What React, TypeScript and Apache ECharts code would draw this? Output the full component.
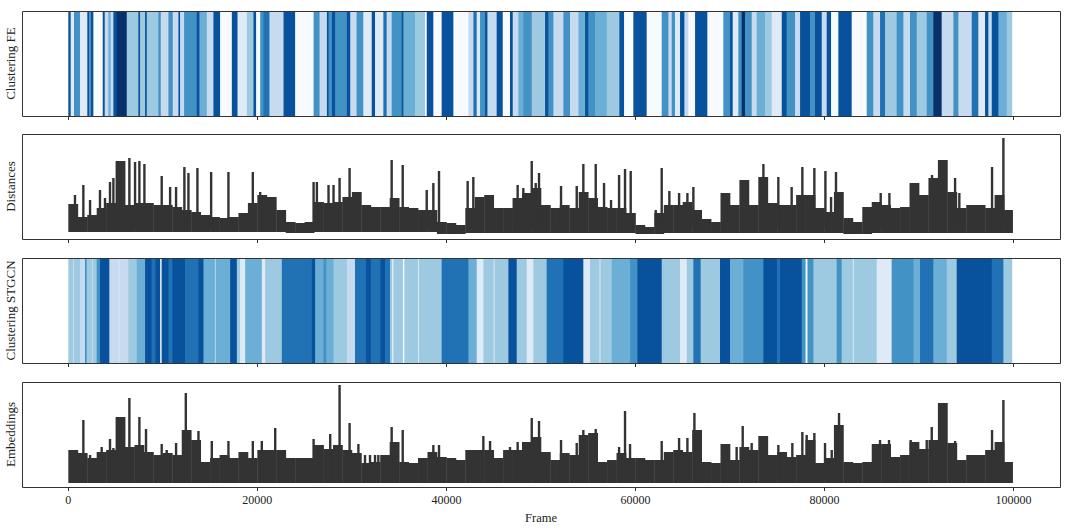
import React, { useEffect, useRef } from 'react';
import * as echarts from 'echarts';

// frames
const FRAME_END = 99800;
const LINE_END = 99900;
const BIN = 1000;
const X_TICKS = [0, 20000, 40000, 60000, 80000, 100000];

const BLUES = ['#f7fbff', '#deebf7', '#c6dbef', '#9ecae1', '#6baed6', '#4292c6', '#2171b5', '#08519c', '#08306b'];
const LINE_COLOR = '#333333';

const PANEL_NAMES = ['Clustering FE', 'Distances', 'Clustering STGCN', 'Embeddings'];

// cluster runs: start frame + colour level
const FE_STARTS = [
  0, 250, 600, 1235, 2010, 2220, 2365, 2650, 3640, 3850, 4240, 4480, 4770, 5120, 6180, 7410, 7590, 8120, 8300, 9530,
  9780, 10590, 11050, 11650, 11825, 12250, 13590, 13870, 14650, 15355, 16060, 17300, 17900, 18890, 19590, 19870, 20300, 20650, 21280, 22770,
  24000, 25950, 26580, 27360, 27530, 27890, 28240, 29470, 29830, 30500, 31210, 32100, 32450, 33330, 33680, 34210, 35270, 35450, 36680, 37740,
  37920, 38620, 39500, 40740, 42330, 42860, 43210, 43560, 44090, 44340, 45320, 45960, 46730, 47020, 47610, 48140, 49030, 50440, 50790, 51320,
  52380, 53080, 53970, 54670, 55020, 55730, 56960, 58300, 58800, 59780, 61190, 62780, 63490, 63840, 64190, 64720, 65180, 65600, 66310, 67610,
  69300, 70010, 70290, 70890, 71240, 71600, 72300, 72830, 73710, 74420, 75480, 76000, 76890, 77420, 78470, 79000, 79710, 80240, 80700, 81470,
  82880, 84470, 85170, 85880, 86410, 87640, 88350, 89050, 89760, 90820, 91520, 92400, 93640, 94170, 95580, 96280, 96990, 97340, 97700, 98400,
  99280,
];
const FE_LEVELS = [
  7, 1, 5, 1, 7, 4, 7, 0, 7, 2, 4, 2, 7, 8, 3, 7, 3, 7, 3, 5,
  2, 5, 2, 7, 2, 5, 7, 4, 2, 7, 0, 7, 1, 3, 7, 0, 5, 6, 2, 7,
  0, 5, 2, 7, 5, 7, 5, 7, 2, 5, 1, 7, 1, 6, 2, 5, 7, 4, 3, 0,
  7, 0, 7, 0, 2, 6, 1, 5, 7, 2, 7, 0, 7, 2, 4, 5, 3, 7, 5, 2,
  5, 2, 4, 7, 5, 4, 3, 7, 0, 7, 0, 5, 2, 5, 1, 7, 2, 0, 7, 0,
  5, 7, 1, 5, 8, 5, 2, 4, 3, 1, 7, 5, 2, 7, 5, 7, 2, 7, 0, 7,
  0, 5, 2, 6, 3, 5, 2, 5, 3, 5, 8, 2, 5, 2, 6, 1, 7, 2, 7, 4,
  3,
];

// [start frame, colour level]
const STGCN_RUNS = [
  [0, 3], [500, 2], [600, 3], [1235, 2], [1765, 5], [1940, 3], [2500, 2], [2600, 3], [3000, 5], [3350, 7],
  [4340, 2], [5300, 1], [5400, 2], [6350, 3], [7240, 4], [8120, 7], [8800, 6], [9200, 7], [9710, 1], [9880, 7],
  [10600, 6], [11000, 7], [12350, 6], [13770, 7], [14300, 4], [15500, 2], [15600, 4], [17120, 7], [17830, 3], [18180, 1],
  [18710, 4], [20470, 1], [20830, 3], [22590, 6], [25770, 7], [26120, 4], [27000, 5], [27300, 4], [28060, 3], [29470, 2],
  [30330, 6], [31500, 7], [32000, 6], [33000, 7], [33500, 6], [34040, 3], [34250, 1], [34400, 3], [35400, 0], [35550, 3],
  [37000, 1], [37100, 3], [39500, 6], [42330, 4], [43210, 1], [43920, 3], [45000, 1], [45100, 3], [46560, 7], [47440, 3],
  [48500, 1], [49200, 3], [50610, 6], [52380, 7], [54490, 1], [55200, 3], [56200, 1], [56300, 3], [57490, 4], [59430, 5],
  [60210, 7], [62780, 3], [64720, 1], [65430, 3], [66130, 6], [66900, 3], [68950, 7], [70010, 4], [71420, 5], [73540, 7],
  [75000, 6], [75300, 7], [77590, 5], [78000, 0], [78200, 5], [78830, 3], [81290, 5], [81820, 3], [83000, 1], [83100, 3],
  [85530, 1], [87110, 5], [89410, 4], [90110, 6], [91520, 4], [92940, 3], [93990, 7], [97700, 6], [98930, 3],
];

// dense traces: per 1000-frame bin, lower and upper envelope (panel units 0..105)
const DIST_HIGH = [
  35, 22, 24, 31, 36, 78, 34, 36, 36, 34,
  34, 32, 29, 27, 24, 22, 21, 22, 26, 36,
  44, 42, 29, 17, 16, 17, 37, 36, 37, 42,
  47, 34, 32, 32, 41, 32, 31, 29, 29, 17,
  16, 14, 31, 42, 44, 31, 31, 41, 46, 51,
  34, 31, 34, 31, 47, 41, 32, 31, 31, 26,
  14, 12, 26, 34, 34, 37, 29, 20, 17, 46,
  34, 59, 34, 62, 36, 34, 34, 44, 44, 31,
  27, 47, 21, 17, 32, 37, 34, 31, 32, 56,
  44, 61, 79, 47, 31, 34, 34, 31, 44, 29,
];
const DIST_LOW = [
  7, 7, 7, 7, 7, 7, 7, 7, 7, 7,
  7, 7, 7, 7, 7, 7, 7, 7, 7, 7,
  7, 7, 7, 6, 6, 6, 7, 7, 7, 7,
  7, 7, 7, 7, 7, 7, 7, 7, 7, 5,
  5, 5, 6, 6, 6, 6, 6, 6, 6, 6,
  6, 6, 6, 6, 6, 6, 6, 6, 6, 6,
  5, 5, 5, 6, 6, 6, 6, 6, 6, 6,
  6, 6, 6, 6, 6, 6, 6, 6, 6, 6,
  6, 6, 5, 5, 5, 6, 6, 6, 6, 6,
  6, 6, 6, 6, 6, 6, 6, 6, 6, 6,
];
const DIST_SPIKES = [
  [706, 44], [1590, 54], [2300, 39], [3350, 49], [3880, 41], [4410, 57], [4770, 61], [6460, 81], [7060, 77], [7520, 78],
  [8050, 75], [9880, 63], [10770, 52], [11400, 52], [12280, 72], [12710, 66], [13660, 71], [15110, 67], [16940, 67], [19520, 67],
  [20300, 47], [25950, 57], [26300, 57], [27530, 54], [28060, 54], [28700, 61], [29760, 71], [34210, 79], [35380, 74], [37920, 49],
  [38620, 56], [39220, 68], [42250, 58], [42850, 62], [47540, 54], [48140, 51], [49030, 78], [49450, 56], [49800, 66], [52130, 53],
  [53790, 53], [54490, 75], [55800, 75], [56680, 56], [57420, 39], [58270, 64], [58900, 70], [59500, 68], [62150, 29], [62780, 71],
  [63590, 48], [64620, 46], [65500, 46], [66130, 52], [73540, 75], [75120, 62], [76530, 52], [77660, 72], [78930, 71], [80100, 68],
  [80700, 42], [81220, 67], [85950, 46], [86870, 46], [91380, 64], [93820, 61], [94270, 46], [97730, 72], [98930, 101],
];

const EMB_HIGH = [
  37, 34, 29, 35, 37, 70, 40, 42, 35, 32,
  34, 32, 57, 47, 25, 29, 32, 29, 35, 29,
  37, 37, 37, 29, 29, 29, 42, 38, 42, 37,
  34, 24, 25, 32, 45, 25, 24, 29, 35, 30,
  29, 27, 37, 37, 37, 29, 37, 37, 45, 50,
  35, 27, 34, 32, 52, 54, 25, 27, 34, 29,
  29, 27, 27, 35, 37, 35, 57, 25, 24, 43,
  27, 40, 37, 51, 32, 35, 30, 32, 47, 24,
  29, 62, 25, 24, 25, 43, 43, 30, 32, 45,
  38, 47, 84, 44, 27, 32, 32, 37, 45, 25,
];
const EMB_BASE = 4;
const EMB_SPIKES = [
  [1590, 67], [2300, 32], [3530, 40], [4410, 48], [4770, 39], [6460, 89], [7520, 70], [8220, 58], [9880, 43], [10410, 37],
  [11400, 44], [12430, 94], [13770, 56], [15180, 46], [16940, 46], [19520, 46], [20470, 46], [21890, 59], [25950, 48], [27710, 53],
  [28700, 102], [29760, 64], [30690, 43], [31390, 32], [31920, 32], [32450, 32], [32800, 32], [34210, 60], [35380, 57], [38620, 42],
  [39220, 42], [43910, 51], [44620, 46], [46730, 40], [47540, 45], [49030, 69], [49800, 66], [52130, 47], [53790, 44], [54490, 57],
  [55800, 58], [58270, 40], [58900, 76], [59430, 43], [62780, 46], [64620, 49], [65500, 49], [66240, 74], [70710, 40], [71350, 61],
  [72300, 44], [75120, 42], [76600, 44], [77660, 55], [78120, 52], [78930, 54], [80060, 44], [80770, 37], [81540, 74], [85880, 47],
  [86830, 47], [89120, 47], [90820, 47], [91350, 60], [93820, 46], [97730, 57], [98930, 87],
];

// layout
const GRID_TOPS = [11, 134, 258, 382];
const GRID_H = 105;
const GRID_LEFT = 22;
const GRID_W = 1038;
const FONT = "'Liberation Serif', 'DejaVu Serif', serif";

const runs = (starts: number[], levels: number[]) =>
  starts.map((s, i) => [s, i + 1 < starts.length ? starts[i + 1] : FRAME_END, levels[i]]);

const bins = (high: number[], low: number[] | number) =>
  high.map((h, i) => [i * BIN, Math.min((i + 1) * BIN, LINE_END), Array.isArray(low) ? low[i] : low, h]);

const stripeItem = (params: any, api: any) => {
  const a = api.coord([api.value(0), 1]);
  const b = api.coord([api.value(1), 0]);
  return {
    type: 'rect',
    shape: { x: a[0], y: a[1], width: b[0] - a[0] + 0.6, height: b[1] - a[1] },
    style: { fill: BLUES[api.value(2)] },
  };
};

const bandItem = (params: any, api: any) => {
  const a = api.coord([api.value(0), api.value(3)]);
  const b = api.coord([api.value(1), api.value(2)]);
  return {
    type: 'rect',
    shape: { x: a[0], y: a[1], width: b[0] - a[0] + 0.4, height: b[1] - a[1] },
    style: { fill: LINE_COLOR },
  };
};

const spikeItem = (base: number) => (params: any, api: any) => {
  const a = api.coord([api.value(0), api.value(1)]);
  const b = api.coord([api.value(0), base]);
  return {
    type: 'line',
    shape: { x1: a[0], y1: a[1], x2: b[0], y2: b[1] },
    style: { stroke: LINE_COLOR, lineWidth: 2.4 },
  };
};

const App: React.FC = () => {
  const chartRef = useRef<HTMLDivElement>(null);

  useEffect(() => {
    if (!chartRef.current) return;
    const chart = echarts.init(chartRef.current, null, { renderer: 'svg' });

    const grid = GRID_TOPS.map((top) => ({
      left: GRID_LEFT,
      top,
      width: GRID_W,
      height: GRID_H,
      show: false,
      containLabel: false,
      outerBoundsMode: 'none',
    }));

    const xAxis = GRID_TOPS.map((_, i) => ({
      type: 'value',
      gridIndex: i,
      min: -4900,
      max: 104920,
      axisLine: { show: false },
      splitLine: { show: false },
      axisTick: { show: true, length: 4, customValues: X_TICKS, lineStyle: { color: '#333' } },
      axisLabel: {
        show: i === 3,
        customValues: X_TICKS,
        formatter: (v: number) => String(v),
        margin: 7,
        fontFamily: FONT,
        fontSize: 12,
        color: '#222',
      },
      name: i === 3 ? 'Frame' : '',
      nameLocation: 'middle',
      nameGap: 24,
      nameTextStyle: { fontFamily: FONT, fontSize: 12.5, color: '#222' },
    }));

    const yAxis = GRID_TOPS.map((_, i) => ({
      type: 'value',
      gridIndex: i,
      min: 0,
      max: i % 2 === 0 ? 1 : GRID_H,
      axisLine: { show: false },
      axisTick: { show: false },
      axisLabel: { show: false },
      splitLine: { show: false },
      name: PANEL_NAMES[i],
      nameLocation: 'middle',
      nameRotate: 90,
      nameGap: 5,
      nameTextStyle: { fontFamily: FONT, fontSize: 13, color: '#222' },
    }));

    const stgcnStarts = STGCN_RUNS.map((r) => r[0]);
    const stgcnLevels = STGCN_RUNS.map((r) => r[1]);

    const series: any[] = [
      { type: 'custom', xAxisIndex: 0, yAxisIndex: 0, renderItem: stripeItem, data: runs(FE_STARTS, FE_LEVELS), encode: { x: [0, 1] } },
      { type: 'custom', xAxisIndex: 1, yAxisIndex: 1, renderItem: bandItem, data: bins(DIST_HIGH, DIST_LOW), encode: { x: [0, 1], y: [2, 3] } },
      { type: 'custom', xAxisIndex: 1, yAxisIndex: 1, renderItem: spikeItem(10), data: DIST_SPIKES, encode: { x: 0, y: 1 } },
      { type: 'custom', xAxisIndex: 2, yAxisIndex: 2, renderItem: stripeItem, data: runs(stgcnStarts, stgcnLevels), encode: { x: [0, 1] } },
      { type: 'custom', xAxisIndex: 3, yAxisIndex: 3, renderItem: bandItem, data: bins(EMB_HIGH, EMB_BASE), encode: { x: [0, 1], y: [2, 3] } },
      { type: 'custom', xAxisIndex: 3, yAxisIndex: 3, renderItem: spikeItem(EMB_BASE + 2), data: EMB_SPIKES, encode: { x: 0, y: 1 } },
    ];

    // panel frames drawn over the data
    const graphic = GRID_TOPS.map((top) => ({
      type: 'rect',
      silent: true,
      z: 100,
      shape: { x: GRID_LEFT + 0.5, y: top + 0.5, width: GRID_W, height: GRID_H },
      style: { fill: 'transparent', stroke: '#333', lineWidth: 1 },
    }));

    chart.setOption({
      animation: false,
      backgroundColor: '#ffffff',
      grid,
      xAxis,
      yAxis,
      series,
      graphic,
    } as any);

    return () => {
      chart.dispose();
    };
  }, []);

  return (
    <div
      ref={chartRef}
      style={{ position: 'absolute', left: 0, top: 0, width: 1065, height: 531 }}
    />
  );
};

export default App;
